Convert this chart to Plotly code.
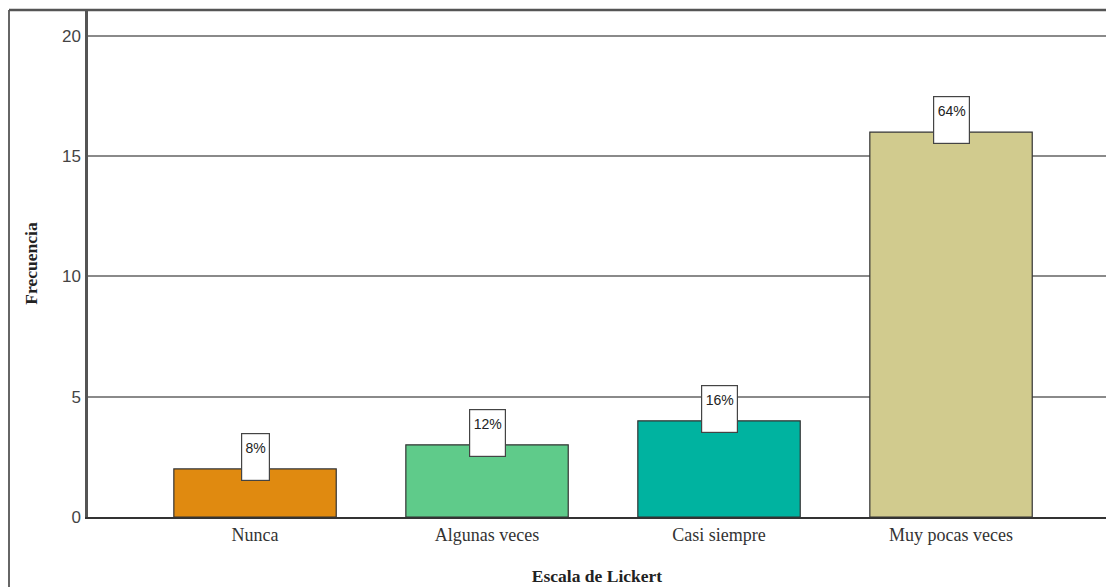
import plotly.graph_objects as go

# Frequency of answers on the Likert scale
categorias = ["Nunca", "Algunas veces", "Casi siempre", "Muy pocas veces"]
frecuencias = [2, 3, 4, 16]
porcentajes = ["8%", "12%", "16%", "64%"]
colores = ["#E08A10", "#5FCB8A", "#00B3A0", "#D1CB8E"]
y_ticks = [0, 5, 10, 15, 20]

W, H = 1106, 587
ML, MR, MT, MB = 88, 0, 10, 70
plot_w = W - ML - MR
plot_h = H - MT - MB

fig = go.Figure()
fig.add_trace(go.Bar(
    x=categorias,
    y=frecuencias,
    width=0.70,
    marker=dict(color=colores, line=dict(color="#333333", width=1.2)),
    hoverinfo="x+y",
))

# Percentage labels in white boxes on top of each bar
for cat, val, pct in zip(categorias, frecuencias, porcentajes):
    fig.add_annotation(
        x=cat, y=val, xref="x", yref="y",
        text=pct + "<br> ", showarrow=False,
        font=dict(family="Liberation Sans, Arial, sans-serif", size=14, color="#222222"),
        bgcolor="white", bordercolor="#444444", borderwidth=1.2, borderpad=0,
        width=8 * len(pct) + 11, height=46,
        valign="middle", align="center",
        yanchor="middle", yshift=12,
    )

# Outer frame (left and top edges)
x_left = (9 - ML) / plot_w
y_bottom = -(H - MT - plot_h) / plot_h - 0.01
fig.add_shape(type="line", xref="paper", yref="paper",
              x0=x_left, x1=x_left, y0=y_bottom, y1=1,
              line=dict(color="#666666", width=2))
fig.add_shape(type="line", xref="paper", yref="paper",
              x0=x_left, x1=1.01, y0=1, y1=1,
              line=dict(color="#555555", width=2.5))

fig.update_layout(
    width=W, height=H,
    margin=dict(l=ML, r=MR, t=MT, b=MB, pad=0),
    paper_bgcolor="white", plot_bgcolor="white",
    showlegend=False,
    bargap=0.3,
    xaxis=dict(
        type="category",
        range=[-0.72, 3.668],
        showgrid=False,
        showline=True, linecolor="#333333", linewidth=2,
        ticks="",
        tickfont=dict(family="Liberation Serif, Times New Roman, serif", size=18, color="#333333"),
        title=dict(text="<b>Escala de Lickert</b>", standoff=26,
                   font=dict(family="Liberation Serif, Times New Roman, serif", size=17.5, color="#222222")),
    ),
    yaxis=dict(
        range=[0, 21.08],
        tickvals=y_ticks,
        showgrid=True, gridcolor="#8a8a8a", gridwidth=1.5,
        zeroline=False,
        showline=True, linecolor="#555555", linewidth=2.5,
        ticks="",
        ticklabelstandoff=1,
        tickfont=dict(family="Liberation Sans, Arial, sans-serif", size=17, color="#444444"),
        title=dict(text="<b>Frecuencia</b>", standoff=20,
                   font=dict(family="Liberation Serif, Times New Roman, serif", size=17.5, color="#222222")),
    ),
)

fig.write_html("out.html")
